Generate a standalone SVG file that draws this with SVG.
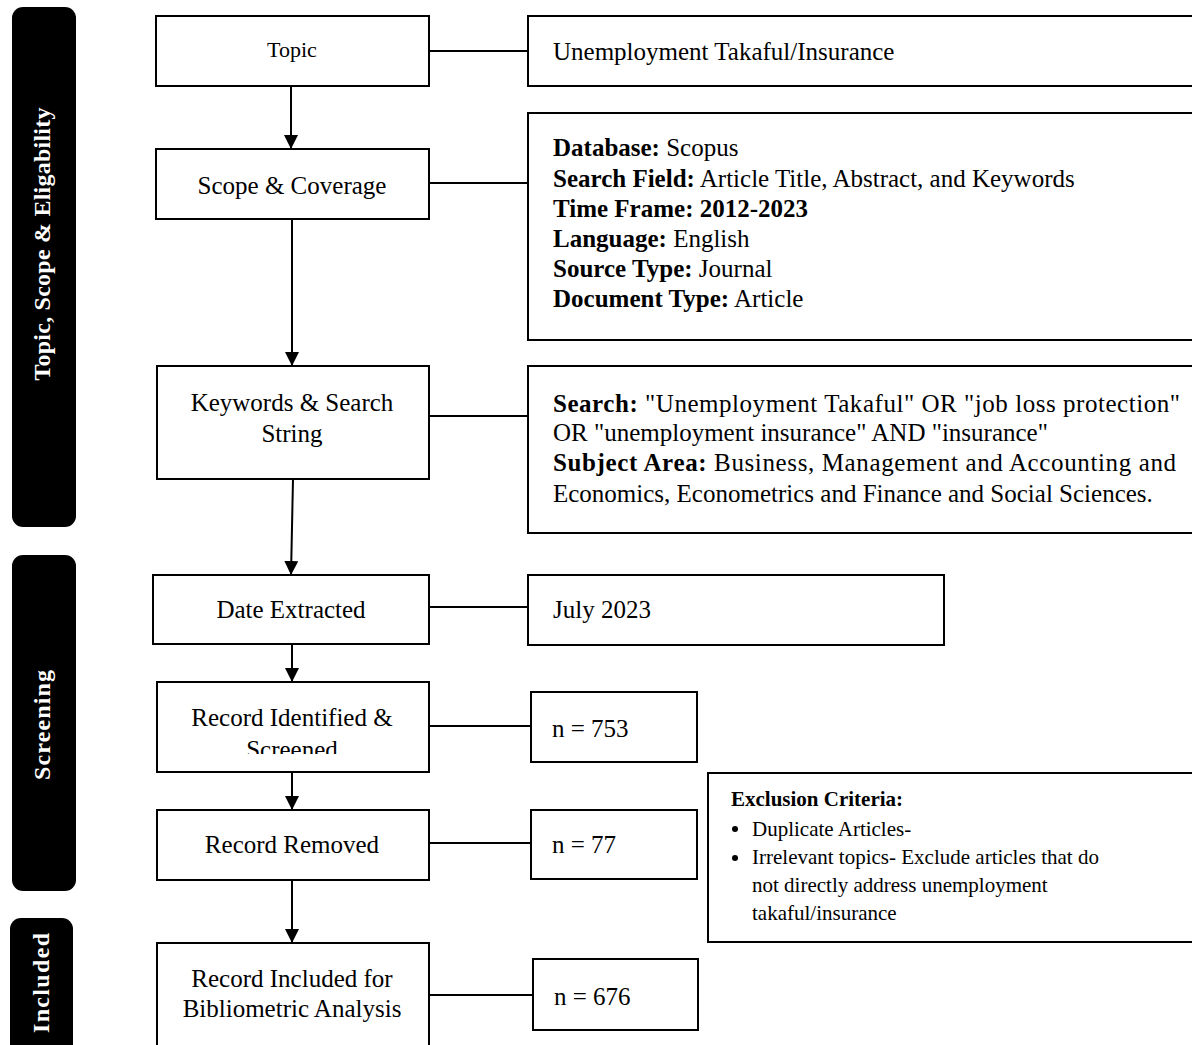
<svg xmlns="http://www.w3.org/2000/svg" width="1192" height="1045" viewBox="0 0 1192 1045">
<style>
.bg{fill:#fff}
.side{fill:#000}
.sideT{fill:#fff;font-family:"Liberation Serif",serif;font-weight:bold;font-size:24px;text-anchor:middle}
.box{fill:#fff;stroke:#000;stroke-width:2}
.t{font-family:"Liberation Serif",serif;font-size:25px;fill:#000}
.c{text-anchor:middle}
.b{font-weight:bold}
.ex{font-family:"Liberation Serif",serif;font-size:21px;fill:#000}
.ln{stroke:#000;stroke-width:2;fill:none}
</style>
<defs>
<marker id="ah" viewBox="0 0 14 14" refX="14" refY="7" markerWidth="14" markerHeight="14" markerUnits="userSpaceOnUse" orient="auto">
<path d="M0,0 L14,7 L0,14 z" fill="#000"/>
</marker>
<clipPath id="clipId"><rect x="150" y="680" width="290" height="74"/></clipPath>
</defs>
<rect class="bg" x="0" y="0" width="1192" height="1045"/>

<g id="phase-topic">
<rect class="side" x="12" y="7" width="64" height="520" rx="11"/>
<text class="sideT" transform="translate(50,244) rotate(-90)" textLength="273" lengthAdjust="spacing">Topic, Scope &amp; Eligability</text>
</g>
<g id="phase-screening">
<rect class="side" x="12" y="555" width="64" height="336" rx="11"/>
<text class="sideT" transform="translate(50,725) rotate(-90)" textLength="110" lengthAdjust="spacing">Screening</text>
</g>
<g id="phase-included">
<rect class="side" x="10" y="918" width="63" height="150" rx="11"/>
<text class="sideT" transform="translate(49,983) rotate(-90)" textLength="100" lengthAdjust="spacing">Included</text>
</g>

<g id="connectors">
<line class="ln" x1="291" y1="86" x2="291" y2="149" marker-end="url(#ah)"/>
<line class="ln" x1="292" y1="219" x2="292" y2="366" marker-end="url(#ah)"/>
<line class="ln" x1="293" y1="479" x2="291" y2="575" marker-end="url(#ah)"/>
<line class="ln" x1="292" y1="644" x2="292" y2="682" marker-end="url(#ah)"/>
<line class="ln" x1="292" y1="772" x2="292" y2="810" marker-end="url(#ah)"/>
<line class="ln" x1="292" y1="880" x2="292" y2="943" marker-end="url(#ah)"/>
<line class="ln" x1="429" y1="51" x2="528" y2="51"/>
<line class="ln" x1="429" y1="183" x2="528" y2="183"/>
<line class="ln" x1="429" y1="416" x2="528" y2="416"/>
<line class="ln" x1="429" y1="607" x2="528" y2="607"/>
<line class="ln" x1="429" y1="726" x2="531" y2="726"/>
<line class="ln" x1="429" y1="843" x2="531" y2="843"/>
<line class="ln" x1="429" y1="995" x2="533" y2="995"/>
</g>

<g id="topic">
<rect class="box" x="156" y="16" width="273" height="70"/>
<text class="t c" x="292" y="57" style="font-size:22px">Topic</text>
</g>
<g id="topic-detail">
<rect class="box" x="528" y="16" width="680" height="70"/>
<text class="t" x="553" y="60">Unemployment Takaful/Insurance</text>
</g>

<g id="scope">
<rect class="box" x="156" y="149" width="273" height="70"/>
<text class="t c" x="292" y="194">Scope &amp; Coverage</text>
</g>
<g id="scope-detail">
<rect class="box" x="528" y="113" width="680" height="227"/>
<text class="t" x="553" y="156"><tspan class="b">Database:</tspan> Scopus</text>
<text class="t" x="553" y="187"><tspan class="b">Search Field:</tspan> Article Title, Abstract, and Keywords</text>
<text class="t b" x="553" y="217">Time Frame: 2012-2023</text>
<text class="t" x="553" y="247"><tspan class="b">Language:</tspan> English</text>
<text class="t" x="553" y="277"><tspan class="b">Source Type:</tspan> Journal</text>
<text class="t" x="553" y="307"><tspan class="b">Document Type:</tspan> Article</text>
</g>

<g id="keywords">
<rect class="box" x="157" y="366" width="272" height="113"/>
<text class="t c" x="292" y="411">Keywords &amp; Search</text>
<text class="t c" x="292" y="442">String</text>
</g>
<g id="keywords-detail">
<rect class="box" x="528" y="366" width="680" height="167"/>
<text class="t" x="553" y="412" textLength="627" lengthAdjust="spacing"><tspan class="b">Search:</tspan> "Unemployment Takaful" OR "job loss protection"</text>
<text class="t" x="553" y="441">OR "unemployment insurance" AND "insurance"</text>
<text class="t" x="553" y="471" textLength="623" lengthAdjust="spacing"><tspan class="b">Subject Area:</tspan> Business, Management and Accounting and</text>
<text class="t" x="553" y="502">Economics, Econometrics and Finance and Social Sciences.</text>
</g>

<g id="date">
<rect class="box" x="153" y="575" width="276" height="69"/>
<text class="t c" x="291" y="618">Date Extracted</text>
</g>
<g id="date-detail">
<rect class="box" x="528" y="575" width="416" height="70"/>
<text class="t" x="553" y="618">July 2023</text>
</g>

<g id="identified">
<rect class="box" x="157" y="682" width="272" height="90"/>
<g clip-path="url(#clipId)">
<text class="t c" x="292" y="726">Record Identified &amp;</text>
<text class="t c" x="292" y="758">Screened</text>
</g>
</g>
<g id="identified-n">
<rect class="box" x="531" y="692" width="166" height="70"/>
<text class="t" x="552" y="737">n = 753</text>
</g>

<g id="removed">
<rect class="box" x="157" y="810" width="272" height="70"/>
<text class="t c" x="292" y="853">Record Removed</text>
</g>
<g id="removed-n">
<rect class="box" x="531" y="810" width="166" height="69"/>
<text class="t" x="552" y="853">n = 77</text>
</g>

<g id="exclusion">
<rect class="box" x="708" y="773" width="500" height="169"/>
<text class="ex b" x="731" y="806">Exclusion Criteria:</text>
<circle cx="735" cy="829" r="3"/>
<text class="ex" x="752" y="836">Duplicate Articles-</text>
<circle cx="735" cy="858" r="3"/>
<text class="ex" x="752" y="864">Irrelevant topics- Exclude articles that do</text>
<text class="ex" x="752" y="892">not directly address unemployment</text>
<text class="ex" x="752" y="920">takaful/insurance</text>
</g>

<g id="included">
<rect class="box" x="157" y="943" width="272" height="120"/>
<text class="t c" x="292" y="987">Record Included for</text>
<text class="t c" x="292" y="1017">Bibliometric Analysis</text>
</g>
<g id="included-n">
<rect class="box" x="533" y="959" width="165" height="71"/>
<text class="t" x="554" y="1005">n = 676</text>
</g>
</svg>
